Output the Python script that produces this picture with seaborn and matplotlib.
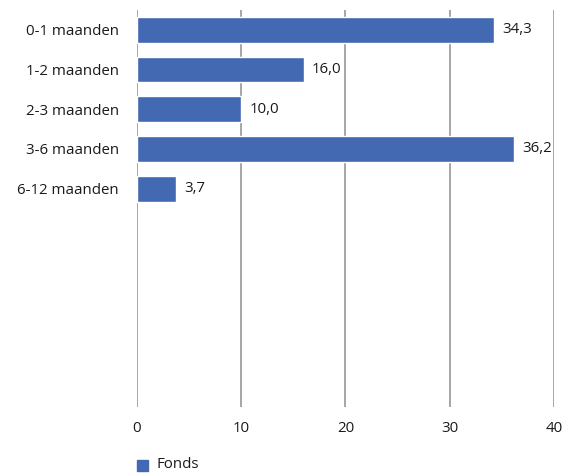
import pandas as pd
import seaborn as sns
import matplotlib.pyplot as plt

# Chart data
categories = ["0-1 maanden", "1-2 maanden", "2-3 maanden", "3-6 maanden", "6-12 maanden"]
values = [34.3, 16.0, 10.0, 36.2, 3.7]
series_name = "Fonds"
x_ticks = [0, 10, 20, 30, 40]

df = pd.DataFrame({"categorie": categories, "waarde": values, "serie": series_name})

sns.set_style("white")
plt.rcParams["font.family"] = ["Open Sans", "DejaVu Sans"]
plt.rcParams["text.color"] = "#1a1a1a"
plt.rcParams["xtick.color"] = "#1a1a1a"
plt.rcParams["ytick.color"] = "#1a1a1a"

fs = 10.8
fig = plt.figure(figsize=(5.79, 4.75), dpi=100)
ax = fig.add_axes([0.2366, 0.143, 0.72, 0.836])

bar_color = "#4269B2"
sns.barplot(data=df, y="categorie", x="waarde", hue="serie", orient="h",
            palette=[bar_color], width=0.65, ax=ax, saturation=1, legend=False)

# 10 slots on the axis, only the first 5 are filled
ax.set_ylim(9.5, -0.5)
ax.set_xlim(0, 40)
ax.set_xticks(x_ticks)
ax.set_xticklabels([str(t) for t in x_ticks], fontsize=fs)
ax.tick_params(axis="y", labelsize=fs, length=0, pad=13)
ax.tick_params(axis="x", length=0, pad=10)

for t in x_ticks:
    ax.axvline(t, color="#A6A6A6", lw=1.4, zorder=0)

for s in ax.spines.values():
    s.set_visible(False)

ax.set_xlabel("")
ax.set_ylabel("")

# value labels with decimal comma
for i, v in enumerate(values):
    ax.text(v + 0.8, i, f"{v:.1f}".replace(".", ","), va="center", ha="left", fontsize=fs)

# legend
fig.patches.append(plt.Rectangle((137 / 579, 1 - 471 / 475), 11 / 579, 11 / 475,
                                 transform=fig.transFigure, color=bar_color, figure=fig))
fig.text(157 / 579, 1 - 465 / 475, series_name, va="center", ha="left", fontsize=fs)

fig.savefig("out.png", dpi=100)
